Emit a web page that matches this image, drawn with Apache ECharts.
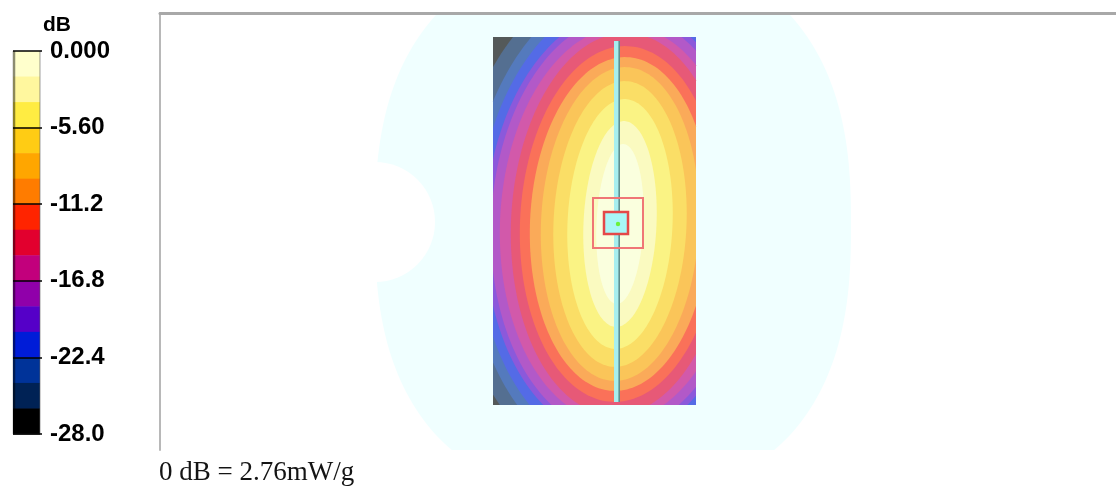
<!DOCTYPE html>
<html>
<head>
<meta charset="utf-8">
<script src="https://cdn.jsdelivr.net/npm/echarts@6/dist/echarts.min.js"></script>
<style>
  html, body { margin: 0; padding: 0; background: #ffffff; }
  #chart { width: 1116px; height: 486px; }
</style>
</head>
<body>
<div id="chart"></div>
<script>
// ---- Colour scale: 15 equal bands from 0 dB down to -28 dB ----
const scaleMin = -28;
const scaleMax = 0;
const tickStep = 5.6;
const bandColors = ['#FFFFCC', '#FFF79E', '#FFEC42', '#FFCC14', '#FFA600', '#FF7C00', '#FF2400',
                    '#E2002E', '#C2007C', '#9000AA', '#5500C8', '#001CD8', '#003399', '#002255', '#000000'];
const tickLabels = ['0.000', '-5.60', '-11.2', '-16.8', '-22.4', '-28.0'];
const scaleUnit = 'dB';
const unitNote = '0 dB = 2.76mW/g';

// ---- Area scan (mm) and its iso-dB contour lines ----
const scanArea = { x0: 83.25, x1: 134, y0: 6, y1: 98 };
const peakCenter = [115.0, 52.75];
const fieldTiltDeg = 2.5;
const contourDb = [-1.867, -3.733, -5.6, -7.467, -9.333, -11.2, -13.067,
                   -14.933, -16.8, -18.667, -20.533, -22.4, -24.267, -26.133];
const contourHalfWidth = [5.875, 9.125, 13.125, 16.625, 19.75, 22.5, 25.0,
                          27.25, 30.0, 32.25, 33.75, 35.75, 38.0, 42.0];
const contourHalfHeight = [20.0, 25.75, 31.25, 35.75, 39.25, 41.75, 44.5,
                           47.75, 49.5, 52.0, 53.5, 56.5, 59.25, 62.5];

// ---- Phantom outline and probe markers (mm) ----
const phantomShape = { cx: 113.25, cy: 53.0, rx: 59.5, ry: 68, power: 2.5 };
const phantomNotch = { cx: 53.75, cy: 52.25, r: 15 };
const probeAxis = { x0: 113.5, x1: 115, y0: 7, y1: 97.25 };
const zoomScanOuter = { x0: 108.25, x1: 120.75, y0: 46.25, y1: 58.75 };
const zoomScanInner = { x0: 111, x1: 117, y0: 49.75, y1: 55.25 };
const peakPoint = [114.5, 52.75];

// ---- helpers ----
const bandStep = (scaleMax - scaleMin) / bandColors.length;
const phantomColor = '#F0FFFF';
const mapAlpha = 0.65;

function hexToRgb(h) {
  const n = parseInt(h.slice(1), 16);
  return [(n >> 16) & 255, (n >> 8) & 255, n & 255];
}
// colour of a band seen through the semi-transparent map over the phantom
function overPhantom(hex) {
  const c = hexToRgb(hex), b = hexToRgb(phantomColor);
  const m = c.map((v, i) => Math.round(v * mapAlpha + b[i] * (1 - mapAlpha)));
  return 'rgb(' + m.join(',') + ')';
}

function cutEdge(pts, axis, val, keepGreater) {
  const out = [];
  const inside = p => keepGreater ? p[axis] >= val : p[axis] <= val;
  const cross = (p, q) => {
    const t = (val - p[axis]) / (q[axis] - p[axis]);
    return [p[0] + t * (q[0] - p[0]), p[1] + t * (q[1] - p[1])];
  };
  for (let i = 0; i < pts.length; i++) {
    const cur = pts[i], prev = pts[(i + pts.length - 1) % pts.length];
    if (inside(cur)) {
      if (!inside(prev)) out.push(cross(prev, cur));
      out.push(cur);
    } else if (inside(prev)) {
      out.push(cross(prev, cur));
    }
  }
  return out;
}
function clipToArea(pts, r) {
  let p = cutEdge(pts, 0, r.x0, true);
  if (p.length) p = cutEdge(p, 0, r.x1, false);
  if (p.length) p = cutEdge(p, 1, r.y0, true);
  if (p.length) p = cutEdge(p, 1, r.y1, false);
  return p;
}
function ovalPoints(cx, cy, rx, ry, power, tiltDeg, count) {
  const th = tiltDeg * Math.PI / 180, e = 2 / power;
  const pts = [];
  for (let i = 0; i < count; i++) {
    const t = 2 * Math.PI * i / count;
    const c = Math.cos(t), s = Math.sin(t);
    const u = rx * Math.sign(c) * Math.pow(Math.abs(c), e);
    const v = ry * Math.sign(s) * Math.pow(Math.abs(s), e);
    pts.push([cx + u * Math.cos(th) - v * Math.sin(th), cy + u * Math.sin(th) + v * Math.cos(th)]);
  }
  return pts;
}
function rectPoints(r) {
  return [[r.x0, r.y0], [r.x1, r.y0], [r.x1, r.y1], [r.x0, r.y1]];
}

// map layers: the whole scan area in the lowest band, then contours from outer to inner
const mapLayers = [{ band: bandColors.length - 1, contour: -1 }];
for (let j = contourDb.length - 1; j >= 0; j--) mapLayers.push({ band: j, contour: j });

const chart = echarts.init(document.getElementById('chart'), null, { renderer: 'canvas' });

const option = {
  backgroundColor: '#ffffff',
  animation: false,
  title: [
    {
      text: unitNote, left: 159, top: 459, padding: 0,
      textStyle: { fontFamily: 'Liberation Serif', fontSize: 27, fontWeight: 'normal', color: '#141414' }
    },
    {
      text: scaleUnit, left: 43, top: 15, padding: 0,
      textStyle: { fontFamily: 'Liberation Sans', fontSize: 21, fontWeight: 'bold', color: '#000' }
    }
  ],
  grid: [
    { left: 160, top: 13, width: 956, height: 437 },
    { left: 13, top: 51, width: 29, height: 383 }
  ],
  xAxis: [
    {
      gridIndex: 0, type: 'value', min: 0, max: 239, position: 'top', z: 10,
      axisLine: { show: true, onZero: false, lineStyle: { color: '#A8A8A8', width: 3 } },
      axisTick: { show: false }, axisLabel: { show: false }, splitLine: { show: false }
    },
    {
      gridIndex: 1, type: 'value', min: 0, max: 1, show: false
    }
  ],
  yAxis: [
    {
      gridIndex: 0, type: 'value', min: 0, max: 109.25, inverse: true, z: 10,
      axisLine: { show: true, onZero: false, lineStyle: { color: '#B8B8B8', width: 2 } },
      axisTick: { show: false }, axisLabel: { show: false }, splitLine: { show: false }
    },
    {
      gridIndex: 1, type: 'value', min: scaleMin, max: scaleMax, interval: tickStep,
      position: 'right', z: 10,
      axisLine: { show: false }, axisTick: { show: false },
      axisLabel: {
        show: true, margin: 8, showMinLabel: true, showMaxLabel: true,
        fontFamily: 'Liberation Sans', fontWeight: 'bold', fontSize: 24, color: '#000',
        formatter: v => tickLabels[Math.round((scaleMax - v) / tickStep)]
      },
      splitLine: { show: true, lineStyle: { color: '#000', width: 1.5 } }
    }
  ],
  series: [
    // phantom silhouette with its ear notch
    {
      type: 'custom', xAxisIndex: 0, yAxisIndex: 0, clip: true, z: 1, silent: true,
      data: [0, 1],
      renderItem: (params, api) => {
        if (params.dataIndex === 0) {
          const pts = ovalPoints(phantomShape.cx, phantomShape.cy, phantomShape.rx, phantomShape.ry,
                                 phantomShape.power, 0, 240).map(p => api.coord(p));
          return { type: 'polygon', shape: { points: pts }, style: { fill: phantomColor } };
        }
        const c = api.coord([phantomNotch.cx, phantomNotch.cy]);
        const r = api.size([phantomNotch.r, 0])[0];
        return { type: 'circle', shape: { cx: c[0], cy: c[1], r: r }, style: { fill: '#ffffff' } };
      }
    },
    // SAR distribution: contour bands clipped to the scan area
    {
      type: 'custom', xAxisIndex: 0, yAxisIndex: 0, clip: true, z: 2, silent: true,
      data: mapLayers.map((l, i) => i),
      renderItem: (params, api) => {
        const layer = mapLayers[params.dataIndex];
        let pts;
        if (layer.contour < 0) {
          pts = rectPoints(scanArea);
        } else {
          const j = layer.contour;
          pts = clipToArea(ovalPoints(peakCenter[0], peakCenter[1], contourHalfWidth[j], contourHalfHeight[j],
                                      2, fieldTiltDeg, 200), scanArea);
        }
        if (!pts.length) return null;
        return {
          type: 'polygon',
          shape: { points: pts.map(p => api.coord(p)) },
          style: { fill: overPhantom(bandColors[layer.band]) }
        };
      }
    },
    // probe axis, zoom-scan boxes and peak location
    {
      type: 'custom', xAxisIndex: 0, yAxisIndex: 0, clip: true, z: 3, silent: true,
      data: [0, 1, 2, 3],
      renderItem: (params, api) => {
        const box = r => {
          const a = api.coord([r.x0, r.y0]), b = api.coord([r.x1, r.y1]);
          return { x: a[0], y: a[1], width: b[0] - a[0], height: b[1] - a[1] };
        };
        if (params.dataIndex === 0) {
          const s = box(probeAxis);
          return {
            type: 'group', children: [
              { type: 'rect', shape: s, style: { fill: '#A6EFEF' } },
              { type: 'line', shape: { x1: s.x + s.width - 0.8, y1: s.y, x2: s.x + s.width - 0.8, y2: s.y + s.height },
                style: { stroke: '#5F8F8F', lineWidth: 1.6 } }
            ]
          };
        }
        if (params.dataIndex === 1) {
          return { type: 'rect', shape: box(zoomScanOuter), style: { fill: null, stroke: '#F07676', lineWidth: 2 } };
        }
        if (params.dataIndex === 2) {
          return { type: 'rect', shape: box(zoomScanInner), style: { fill: '#A8F6F6', stroke: '#E44848', lineWidth: 2.5 } };
        }
        const c = api.coord(peakPoint);
        return { type: 'circle', shape: { cx: c[0], cy: c[1], r: 2.2 }, style: { fill: '#6CF23A' } };
      }
    },
    // colour bar
    {
      type: 'custom', xAxisIndex: 1, yAxisIndex: 1, z: 2, silent: true,
      data: bandColors.map((c, k) => k).concat([bandColors.length]),
      renderItem: (params, api) => {
        const k = params.dataIndex;
        if (k === bandColors.length) {
          const a = api.coord([0, scaleMax]), b = api.coord([0.93, scaleMin]);
          return {
            type: 'group', children: [
              { type: 'line', shape: { x1: a[0] + 1, y1: a[1], x2: a[0] + 1, y2: b[1] },
                style: { stroke: 'rgba(0,0,0,0.45)', lineWidth: 2.5 } },
              { type: 'line', shape: { x1: b[0], y1: a[1], x2: b[0], y2: b[1] },
                style: { stroke: 'rgba(90,90,90,0.6)', lineWidth: 1 } },
              { type: 'line', shape: { x1: a[0], y1: b[1], x2: b[0], y2: b[1] },
                style: { stroke: 'rgba(90,90,90,0.6)', lineWidth: 1 } }
            ]
          };
        }
        const top = api.coord([0, scaleMax - k * bandStep]);
        const bot = api.coord([0.93, scaleMax - (k + 1) * bandStep]);
        return {
          type: 'rect',
          shape: { x: top[0], y: top[1], width: bot[0] - top[0], height: bot[1] - top[1] + 0.5 },
          style: { fill: bandColors[k] }
        };
      }
    }
  ]
};

chart.setOption(option);
</script>
</body>
</html>
